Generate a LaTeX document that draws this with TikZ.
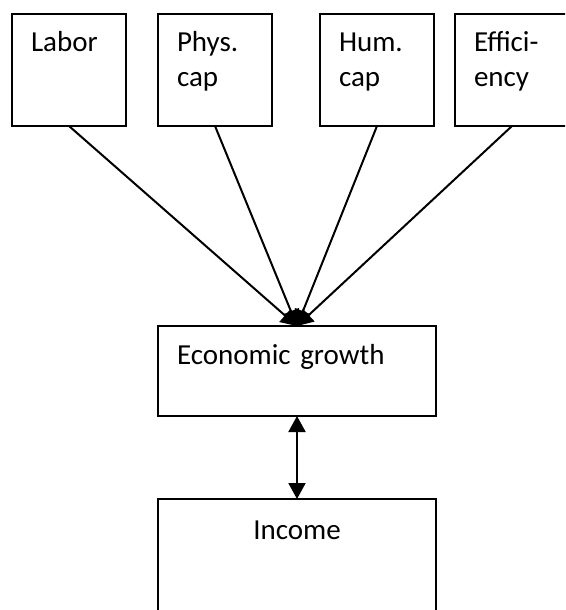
\documentclass[tikz,border=0pt]{standalone}
\usepackage{fontspec}
\setmainfont{Carlito}
\usetikzlibrary{positioning, arrows.meta}

\begin{document}
\begin{tikzpicture}
    [x=1pt, y=-1pt,
    font=\fontsize{29}{35}\selectfont,
    >={Triangle[length=16pt, width=17pt]},
    topnode/.style={rectangle, draw=black, line width=2pt, outer sep=0pt, inner xsep=19pt, inner ysep=0pt,
        text width=76pt, text height=38pt, text depth=74pt, align=left},
    widenode/.style={rectangle, draw=black, line width=2pt, outer sep=0pt, inner xsep=19pt, inner ysep=0pt,
        text width=240pt, text height=38pt, text depth=52pt},]

    \clip (0,0) rectangle (565,610);

     %Nodes
    \node[topnode, anchor=north west](labor) at (12,14){Labor};
    \node[topnode](phys)[right=32pt of labor]{Phys.\\cap};
    \node[topnode](hum)[right=48pt of phys]{Hum.\\cap};
    \node[topnode](eff)[right=21pt of hum]{Effici-\\ency};

    \node[widenode, align=left](growth)[below=200pt of phys.south west, anchor=north west]{Economic growth};
    \node[widenode, align=center, text height=40pt, text depth=100pt](income)[below=83pt of growth]{Income};

    %Lines
    \draw[->, line width=2pt](labor.south)--(growth.north);
    \draw[->, line width=2pt](phys.south)--(growth.north);
    \draw[->, line width=2pt](hum.south)--(growth.north);
    \draw[->, line width=2pt](eff.south)--(growth.north);

    \draw[<->, line width=2pt](growth)--(income);
\end{tikzpicture}
\end{document}
